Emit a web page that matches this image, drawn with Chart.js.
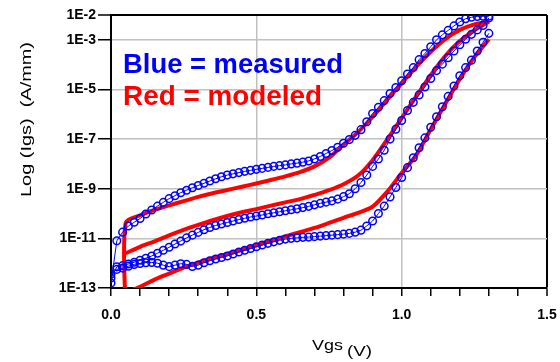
<!DOCTYPE html>
<html lang="en">

<head>
    <meta charset="UTF-8">
    <style>
        html, body {
            margin: 0;
            padding: 0;
            background-color: #ffffff;
            overflow: hidden;
        }
    </style>
    <title>Igs vs Vgs</title>
</head>

<body>
    <canvas id="myChart" width="560" height="362"></canvas>
    <script src="https://cdn.jsdelivr.net/npm/chart.js"></script>

    <script>
        // measured points: Vgs (V) and log10(Igs) for the three sweeps
        const vgsMeas = [0.00, 0.02, 0.04, 0.06, 0.08, 0.10, 0.12, 0.14, 0.16, 0.18,
            0.20, 0.22, 0.24, 0.26, 0.28, 0.30, 0.32, 0.34, 0.36, 0.38,
            0.40, 0.42, 0.44, 0.46, 0.48, 0.50, 0.52, 0.54, 0.56, 0.58,
            0.60, 0.62, 0.64, 0.66, 0.68, 0.70, 0.72, 0.74, 0.76, 0.78,
            0.80, 0.82, 0.84, 0.86, 0.88, 0.90, 0.92, 0.94, 0.96, 0.98,
            1.00, 1.02, 1.04, 1.06, 1.08, 1.10, 1.12, 1.14, 1.16, 1.18,
            1.20, 1.22, 1.24, 1.26, 1.28, 1.30];

        const measTop = [-12.8, -11.1, -10.75, -10.5, -10.35, -10.2, -10.02, -9.86, -9.7, -9.55,
            -9.4, -9.28, -9.16, -9.06, -8.96, -8.87, -8.78, -8.69, -8.6, -8.52,
            -8.45, -8.4, -8.35, -8.3, -8.26, -8.22, -8.18, -8.14, -8.1, -8.07,
            -8.04, -8.0, -7.97, -7.93, -7.88, -7.8, -7.7, -7.58, -7.46, -7.33,
            -7.17, -7.02, -6.85, -6.62, -6.3, -5.97, -5.72, -5.45, -5.16, -4.92,
            -4.65, -4.38, -4.12, -3.8, -3.55, -3.28, -3.0, -2.8, -2.62, -2.44,
            -2.28, -2.15, -2.09, -2.06, -2.05, -2.05];

        const measMid = [-12.6, -12.15, -12.1, -12.03, -11.96, -11.88, -11.8, -11.71, -11.6, -11.48,
            -11.36, -11.23, -11.11, -10.98, -10.87, -10.76, -10.65, -10.56, -10.48, -10.42,
            -10.36, -10.3, -10.24, -10.19, -10.14, -10.1, -10.06, -10.01, -9.97, -9.93,
            -9.89, -9.85, -9.81, -9.76, -9.71, -9.65, -9.59, -9.54, -9.49, -9.42,
            -9.32, -9.2, -9.0, -8.75, -8.45, -8.1, -7.8, -7.45, -7.0, -6.6,
            -6.25, -5.85, -5.52, -5.22, -4.9, -4.56, -4.24, -3.98, -3.72, -3.45,
            -3.2, -2.98, -2.78, -2.6, -2.42, -2.12];

        const measLow = [-12.45, -12.25, -12.2, -12.12, -12.05, -12.01, -11.98, -11.97, -12.0, -12.08,
            -12.14, -12.08, -12.02, -12.05, -12.13, -12.08, -11.98, -11.9, -11.83, -11.77,
            -11.71, -11.63, -11.55, -11.48, -11.41, -11.34, -11.27, -11.2, -11.14, -11.08,
            -11.03, -11.0, -10.98, -10.96, -10.95, -10.93, -10.91, -10.89, -10.87, -10.85,
            -10.83, -10.8, -10.75, -10.67, -10.5, -10.3, -10.0, -9.7, -9.33, -8.95,
            -8.55, -8.15, -7.75, -7.35, -6.95, -6.52, -6.1, -5.7, -5.28, -4.86,
            -4.45, -4.12, -3.82, -3.45, -3.1, -2.74];

        // modeled curves
        const vgsModTop = [0.05, 0.05, 0.10, 0.15, 0.20, 0.25, 0.30, 0.35, 0.40, 0.45, 0.50, 0.55, 0.60,
            0.65, 0.70, 0.75, 0.80, 0.85, 0.90, 0.95, 1.00, 1.05, 1.10, 1.15, 1.20, 1.25, 1.30];
        const modTop = [-14, -10.4, -10.07, -9.85, -9.67, -9.5, -9.33, -9.18, -9.05, -8.92, -8.79, -8.65, -8.5,
            -8.33, -8.1, -7.75, -7.22, -6.72, -6.1, -5.42, -4.75, -4.08, -3.48, -2.97, -2.6, -2.38, -2.25];

        const vgsModMid = [0.05, 0.10, 0.15, 0.20, 0.25, 0.30, 0.35, 0.40, 0.45, 0.50, 0.55, 0.60,
            0.65, 0.70, 0.75, 0.80, 0.85, 0.90, 0.95, 1.00, 1.05, 1.10, 1.15, 1.20, 1.25, 1.30];
        const modMid = [-11.6, -11.34, -11.12, -10.88, -10.66, -10.46, -10.27, -10.1, -9.95, -9.82, -9.68, -9.55,
            -9.42, -9.25, -9.06, -8.82, -8.47, -7.85, -7.02, -6.15, -5.28, -4.42, -3.65, -3.05, -2.62, -2.27];

        const vgsModLow = [0.07, 0.10, 0.15, 0.20, 0.25, 0.30, 0.35, 0.40, 0.45, 0.50, 0.55, 0.60,
            0.65, 0.70, 0.75, 0.80, 0.85, 0.90, 0.95, 1.00, 1.05, 1.10, 1.15, 1.20, 1.25, 1.30];
        const modLow = [-13.1, -12.95, -12.66, -12.42, -12.18, -11.98, -11.8, -11.63, -11.46, -11.28, -11.1, -10.92,
            -10.75, -10.58, -10.38, -10.17, -9.97, -9.72, -9.12, -8.37, -7.65, -6.6, -5.58, -4.58, -3.7, -2.98];

        const yTickExp = [-2, -3, -5, -7, -9, -11, -13];
        const xLabelTicks = [0.0, 0.5, 1.0, 1.5];

        const toPoints = (xs, logs) => xs.map((x, i) => ({ x: x, y: Math.pow(10, logs[i]) }));

        const measStyle = {
            borderColor: '#0000ff',
            borderWidth: 1,
            pointRadius: 3.8,
            pointBorderWidth: 1.5,
            pointBorderColor: '#0000ff',
            pointBackgroundColor: 'rgba(0,0,0,0)',
            tension: 0,
            order: 0
        };
        const modStyle = {
            borderColor: '#ff0000',
            borderWidth: 4,
            pointRadius: 0,
            tension: 0.3,
            order: 1
        };

        const font = '"Liberation Sans", Arial, sans-serif';

        function fitText(ctx, text, x, y, size, weight, color, width) {
            ctx.font = weight + ' ' + size + 'px ' + font;
            ctx.fillStyle = color;
            const w = ctx.measureText(text).width;
            ctx.save();
            ctx.translate(x, y);
            ctx.scale(width / w, 1);
            ctx.fillText(text, 0, 0);
            ctx.restore();
        }

        const textPlugin = {
            id: 'texts',
            afterDraw(chart) {
                const ctx = chart.ctx;
                ctx.save();
                ctx.textAlign = 'left';
                ctx.textBaseline = 'alphabetic';
                fitText(ctx, 'Blue = measured', 123, 73, 28, 'bold', '#0000ff', 220);
                fitText(ctx, 'Red = modeled', 123, 105, 28, 'bold', '#ff0000', 199);
                fitText(ctx, 'Vgs', 312, 350, 15, 'normal', '#000000', 31);
                fitText(ctx, '(V)', 347, 356, 15, 'normal', '#000000', 25);
                ctx.translate(31, 197);
                ctx.rotate(-Math.PI / 2);
                fitText(ctx, 'Log (Igs)  (A/mm)', 0, 0, 15, 'normal', '#000000', 155);
                ctx.restore();
            }
        };

        const near = (a, b) => Math.abs(a - b) < 1e-6;

        new Chart(document.getElementById('myChart'), {
            type: 'line',
            data: {
                datasets: [
                    { label: 'measured top', data: toPoints(vgsMeas, measTop), ...measStyle },
                    { label: 'measured mid', data: toPoints(vgsMeas, measMid), ...measStyle },
                    { label: 'measured low', data: toPoints(vgsMeas, measLow), ...measStyle },
                    { label: 'modeled top', data: toPoints(vgsModTop, modTop), ...modStyle },
                    { label: 'modeled mid', data: toPoints(vgsModMid, modMid), ...modStyle },
                    { label: 'modeled low', data: toPoints(vgsModLow, modLow), ...modStyle }
                ]
            },
            options: {
                responsive: false,
                animation: false,
                layout: {
                    padding: { top: 15, right: 13, left: 0, bottom: 0 }
                },
                plugins: {
                    legend: { display: false },
                    tooltip: { enabled: false }
                },
                scales: {
                    x: {
                        type: 'linear',
                        min: 0,
                        max: 1.5,
                        afterFit: (scale) => {
                            scale.height = 74;
                            scale.paddingLeft = 0;
                            scale.paddingRight = 0;
                        },
                        ticks: {
                            stepSize: 0.1,
                            autoSkip: false,
                            maxRotation: 0,
                            padding: 11,
                            color: '#000000',
                            font: { family: font, size: 14, weight: 'bold' },
                            callback: (v) => xLabelTicks.some(t => near(t, v)) ? v.toFixed(1) : ''
                        },
                        grid: {
                            color: (c) => near(c.tick.value, 1.5) ? '#000000'
                                : (near(c.tick.value, 0.5) || near(c.tick.value, 1.0)) ? '#c0c0c0' : 'rgba(0,0,0,0)',
                            lineWidth: (c) => near(c.tick.value, 1.5) ? 2 : 1.5,
                            tickColor: '#000000',
                            tickLength: 8,
                            tickWidth: 1.5
                        },
                        border: { color: '#000000', width: 2 }
                    },
                    y: {
                        type: 'logarithmic',
                        min: 1e-13,
                        max: 1e-2,
                        afterFit: (scale) => { scale.width = 111; },
                        afterBuildTicks: (scale) => {
                            scale.ticks = yTickExp.map(e => ({ value: Math.pow(10, e) }));
                        },
                        ticks: {
                            padding: 2,
                            color: '#000000',
                            font: { family: font, size: 14, weight: 'bold' },
                            callback: (v) => '1E' + Math.round(Math.log10(v))
                        },
                        grid: {
                            color: (c) => (c.tick.value >= 0.009 || c.tick.value <= 1.1e-13) ? '#000000' : '#c0c0c0',
                            lineWidth: (c) => (c.tick.value >= 0.009) ? 2 : 1.5,
                            tickColor: '#000000',
                            tickLength: 13,
                            tickWidth: 1.5
                        },
                        border: { color: '#000000', width: 2 }
                    }
                }
            },
            plugins: [textPlugin]
        });
    </script>

</body>

</html>
